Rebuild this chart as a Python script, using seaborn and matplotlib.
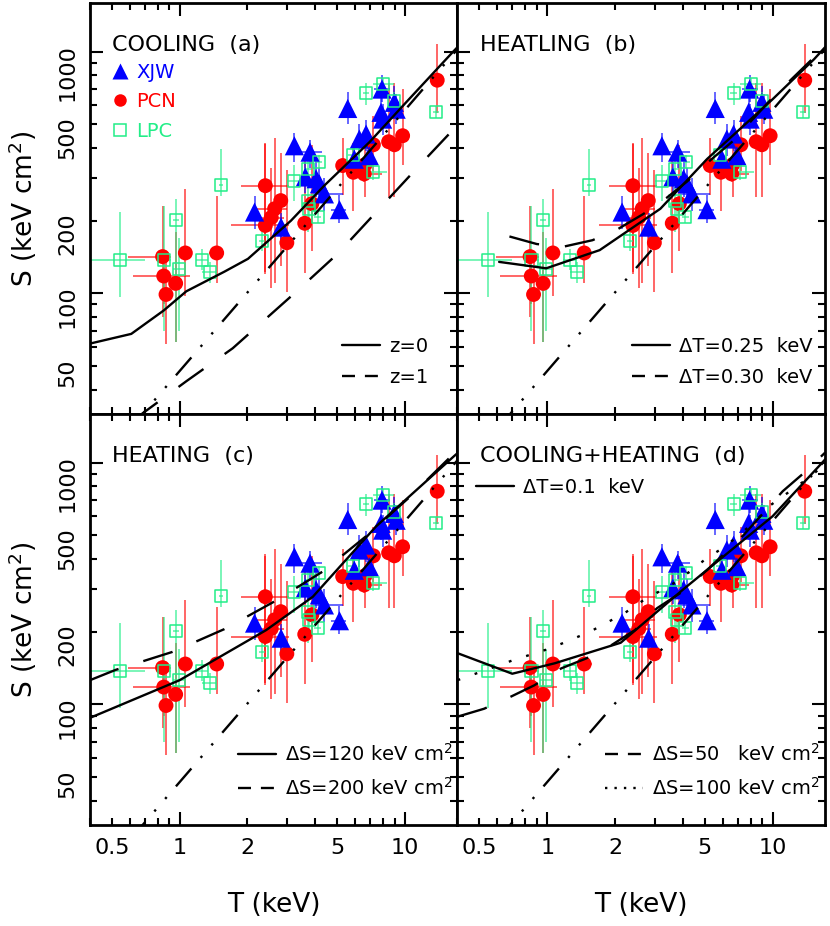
import numpy as np
import pandas as pd
import seaborn as sns
import matplotlib.pyplot as plt
from matplotlib.ticker import FixedLocator, FuncFormatter
from matplotlib.lines import Line2D

# ---- data ----
# XJW (blue triangles)
xjw_T = [2.15, 2.82, 3.23, 3.79, 3.61, 4.03, 4.17, 4.39, 5.12, 5.57, 5.96, 6.27, 6.72, 6.95, 7.91, 7.83, 7.96, 8.97, 9.14]
xjw_S = [217, 188, 408, 384, 303, 298, 284, 258, 222, 582, 359, 435, 456, 371, 700, 561, 526, 617, 578]
xjw_S_lo = [185, 160, 350, 330, 260, 250, 240, 220, 195, 500, 310, 370, 390, 320, 620, 480, 450, 530, 500]
xjw_S_hi = [254, 215, 460, 430, 350, 350, 330, 300, 255, 680, 420, 500, 520, 430, 800, 650, 610, 720, 670]
xjw_T_lo = [2.10, 2.75, 3.15, 3.30, 3.52, 3.93, 4.07, 3.90, 4.70, 5.45, 5.80, 6.10, 6.55, 6.80, 7.30, 7.65, 7.75, 8.70, 8.90]
xjw_T_hi = [2.20, 2.90, 3.30, 4.30, 3.70, 4.13, 4.27, 5.30, 5.50, 5.70, 6.10, 6.45, 6.90, 7.10, 8.60, 8.00, 8.15, 9.25, 9.40]

# PCN (red circles)
pcn_T = [0.84, 0.85, 0.87, 0.96, 1.06, 1.46, 2.40, 2.40, 2.55, 2.64, 2.81, 2.99, 3.59, 3.86, 5.29, 5.90, 6.65, 6.59, 7.24, 8.46, 8.97, 9.76, 13.9]
pcn_S = [142, 118, 99, 110, 147, 147, 279, 191, 206, 224, 242, 162, 195, 235, 338, 317, 341, 312, 412, 424, 412, 449, 762]
pcn_S_lo = [80, 90, 62, 63, 98, 110, 123, 120, 105, 110, 130, 101, 121, 150, 255, 220, 250, 290, 320, 250, 250, 340, 560]
pcn_S_hi = [230, 150, 135, 180, 270, 253, 413, 420, 330, 440, 380, 325, 360, 410, 440, 420, 480, 360, 540, 740, 740, 700, 1080]
pcn_T_lo = [0.59, 0.62, 0.82, 0.93, 1.06, 1.35, 1.88, 1.69, 2.30, 2.20, 2.81, 2.99, 3.59, 3.86, 5.29, 5.90, 6.65, 6.20, 7.24, 8.46, 8.97, 9.76, 13.9]
pcn_T_hi = [0.92, 1.11, 0.93, 0.99, 1.06, 1.58, 3.07, 3.07, 2.90, 3.00, 2.81, 2.99, 3.59, 3.86, 5.29, 5.90, 6.65, 7.90, 7.24, 8.46, 8.97, 9.76, 13.9]

# LPC (green open squares)
lpc_T = [0.546, 0.852, 0.96, 0.993, 1.26, 1.36, 1.53, 2.32, 3.23, 3.70, 4.14, 3.70, 3.76, 4.10, 5.86, 7.19, 6.72, 8.01, 8.97, 13.7]
lpc_S = [138, 137, 202, 126, 138, 123, 282, 165, 293, 327, 351, 242, 224, 207, 374, 319, 672, 733, 626, 561]
lpc_S_lo = [97, 70, 63, 70, 125, 110, 253, 150, 240, 280, 330, 180, 200, 195, 340, 295, 600, 690, 580, 530]
lpc_S_hi = [218, 230, 246, 170, 152, 135, 396, 180, 340, 360, 375, 280, 250, 220, 410, 345, 740, 780, 680, 595]
lpc_T_lo = [0.40, 0.80, 0.93, 0.93, 1.18, 1.26, 1.50, 2.25, 3.00, 3.55, 4.00, 3.60, 3.65, 3.95, 5.60, 6.60, 6.50, 7.20, 8.70, 13.3]
lpc_T_hi = [0.70, 0.92, 0.99, 1.05, 1.34, 1.45, 1.56, 2.40, 3.45, 3.85, 4.30, 3.80, 3.87, 4.25, 6.10, 8.30, 6.95, 8.90, 9.25, 14.1]

# self-similar line (dash-dot, all panels)
ss_T = [0.60, 17.5]
ss_S = [27.5, 1050]

# panel (a): cooling
a_z0_T = [0.40, 0.61, 0.85, 1.07, 1.58, 2.01, 3.12, 4.38, 6.95, 10.0, 15.98, 17.2]
a_z0_S = [62, 68, 85, 102, 123, 139, 200, 279, 422, 610, 977, 1050]
a_z1_T = [0.62, 0.688, 1.07, 1.72, 3.29, 5.03, 11.2, 17.2]
a_z1_S = [29.8, 32, 43.3, 59.3, 101.6, 146, 327, 500]

# panel (b): heatling
b_025_T = [0.612, 0.99, 1.71, 3.18, 5.13, 10.0, 15.3, 17.3]
b_025_S = [135, 127, 151, 224, 360, 635, 931, 1055]
b_030_T = [0.68, 0.90, 1.18, 1.59, 2.07, 2.67, 3.38, 4.17, 5.27, 6.62, 10.0, 17.3]
b_030_S = [172, 160, 156, 166, 185, 213, 248, 290, 354, 424, 645, 1060]

# panel (c): heating
c_120_T = [0.40, 1.0, 1.61, 2.42, 3.9, 7.44, 16.5, 17.1]
c_120_S = [88, 126, 163, 203, 279, 545, 1064, 1095]
c_200_T = [0.40, 0.52, 0.93, 1.58, 2.64, 4.32, 6.71, 10.4, 15.8, 17.1]
c_200_S = [126, 139, 165, 205, 267, 355, 496, 716, 1050, 1130]

# panel (d): cooling + heating
d_01_T = [0.40, 0.70, 1.08, 2.12, 4.03, 10.0, 17.1]
d_01_S = [163, 134, 148, 180, 300, 600, 1030]
d_50_T = [0.40, 0.525, 0.68, 0.877, 1.155, 1.49, 1.93, 2.45, 3.07, 3.9, 5.13, 7.47, 11.1, 13.8, 17.1]
d_50_S = [89, 96, 107, 120, 141, 155, 176, 203, 250, 289, 360, 504, 762, 908, 1100]
d_100_T = [0.40, 0.70, 1.04, 1.55, 2.21, 2.63, 3.77, 5.13, 6.19, 8.57, 9.66, 14.8, 17.1]
d_100_S = [126, 152, 171, 200, 239, 267, 323, 404, 451, 582, 661, 879, 990]

titles = ['COOLING  (a)', 'HEATLING  (b)', 'HEATING  (c)', 'COOLING+HEATING  (d)']
x_labels = {0.5: '0.5', 2: '2', 5: '5'}
y_labels = {50: '50', 200: '200', 500: '500'}

BLUE = '#0000ff'
RED = '#ff0000'
GREEN = '#22ee88'

SOLID = '-'
DASH = (0, (13, 11))
DASHDOT = (0, (10, 6, 1, 6, 1, 6))
DOT = (0, (1.2, 6.5))

sns.set_style('ticks')
plt.rcParams['font.family'] = ['DejaVu Sans']
plt.rcParams['axes.linewidth'] = 2.0
plt.rcParams['text.color'] = 'black'
plt.rcParams['axes.labelcolor'] = 'black'
plt.rcParams['xtick.color'] = 'black'
plt.rcParams['ytick.color'] = 'black'
plt.rcParams['axes.edgecolor'] = 'black'

fig, axes = plt.subplots(2, 2, figsize=(8.3, 9.26), dpi=100, sharex=True, sharey=True)
fig.subplots_adjust(left=0.1084, right=0.994, top=0.9968, bottom=0.109, wspace=0, hspace=0)

panel_lines = [
    [(a_z0_T, a_z0_S, SOLID), (a_z1_T, a_z1_S, DASH)],
    [(b_025_T, b_025_S, SOLID), (b_030_T, b_030_S, DASH)],
    [(c_120_T, c_120_S, SOLID), (c_200_T, c_200_S, DASH)],
    [(d_01_T, d_01_S, SOLID), (d_50_T, d_50_S, DASH), (d_100_T, d_100_S, DOT)],
]


def errbars(ax, T, S, Tlo, Thi, Slo, Shi, color):
    T = np.array(T); S = np.array(S)
    ax.errorbar(T, S, xerr=[T - np.array(Tlo), np.array(Thi) - T],
                yerr=[S - np.array(Slo), np.array(Shi) - S],
                fmt='none', ecolor=color, elinewidth=1.3, alpha=0.65, capsize=0, zorder=2)


for i, ax in enumerate(axes.flat):
    ax.set_xscale('log')
    ax.set_yscale('log')

    errbars(ax, pcn_T, pcn_S, pcn_T_lo, pcn_T_hi, pcn_S_lo, pcn_S_hi, RED)
    errbars(ax, xjw_T, xjw_S, xjw_T_lo, xjw_T_hi, xjw_S_lo, xjw_S_hi, BLUE)
    errbars(ax, lpc_T, lpc_S, lpc_T_lo, lpc_T_hi, lpc_S_lo, lpc_S_hi, GREEN)

    sns.scatterplot(x=pcn_T, y=pcn_S, ax=ax, marker='o', s=115, color=RED,
                    edgecolor='none', linewidth=0, zorder=3)
    sns.scatterplot(x=xjw_T, y=xjw_S, ax=ax, marker='^', s=190, color=BLUE,
                    edgecolor='none', linewidth=0, zorder=4)
    sns.scatterplot(x=lpc_T, y=lpc_S, ax=ax, marker='s', s=75, facecolor='none',
                    edgecolor=GREEN, linewidth=1.1, zorder=5)

    sns.lineplot(x=ss_T, y=ss_S, ax=ax, color='k', lw=1.7, linestyle=DASHDOT,
                 sort=False, estimator=None, zorder=6)
    for T, S, ls in panel_lines[i]:
        sns.lineplot(x=T, y=S, ax=ax, color='k', lw=1.7, linestyle=ls,
                     sort=False, estimator=None, zorder=6)

    ax.set_xlim(0.40, 17.1)
    ax.set_ylim(31.7, 1590)
    ax.xaxis.set_major_locator(FixedLocator([1, 10]))
    ax.xaxis.set_minor_locator(FixedLocator([0.4, 0.5, 0.6, 0.7, 0.8, 0.9, 2, 3, 4, 5, 6, 7, 8, 9]))
    ax.yaxis.set_major_locator(FixedLocator([100, 1000]))
    ax.yaxis.set_minor_locator(FixedLocator([40, 50, 60, 70, 80, 90, 200, 300, 400, 500, 600, 700, 800, 900]))
    ax.xaxis.set_major_formatter(FuncFormatter(lambda v, p: f'{v:g}'))
    ax.yaxis.set_major_formatter(FuncFormatter(lambda v, p: f'{v:g}'))
    ax.xaxis.set_minor_formatter(FuncFormatter(lambda v, p: x_labels.get(round(v, 3), '')))
    ax.yaxis.set_minor_formatter(FuncFormatter(lambda v, p: y_labels.get(round(v), '')))
    ax.tick_params(which='both', direction='in', top=True, right=True, width=1.5,
                   labelsize=16, color='k', labelcolor='k')
    ax.tick_params(which='major', length=9.5, pad=9)
    ax.tick_params(which='minor', length=5, pad=9)
    ax.tick_params(axis='y', which='both', labelrotation=90)
    for sp in ax.spines.values():
        sp.set_linewidth(2.0)
        sp.set_color('k')

    ax.text(0.06 if i % 2 == 0 else 0.062, 0.898, titles[i], transform=ax.transAxes,
            fontsize=16, va='center', ha='left', color='k')

# legends
def line_handle(ls):
    return Line2D([], [], color='k', lw=1.7, linestyle=ls)

LEG_DASH = (0, (5.5, 4.2))
LEG_DOT = (0, (1.0, 3.0))
leg_kw = dict(frameon=False, fontsize=14, handlelength=1.95, handletextpad=0.45,
              labelspacing=0.62, borderpad=0, borderaxespad=0, labelcolor='k')

ax = axes[0, 0]
mk = [Line2D([], [], ls='none', marker='^', ms=12, color=BLUE, mec='none'),
      Line2D([], [], ls='none', marker='o', ms=9, color=RED, mec='none'),
      Line2D([], [], ls='none', marker='s', ms=8, mfc='none', mec=GREEN, mew=1.1)]
leg1 = ax.legend(mk, ['XJW', 'PCN', 'LPC'], loc='upper left', bbox_to_anchor=(0.055, 0.855),
                 labelcolor=[BLUE, RED, GREEN], frameon=False, fontsize=14, handlelength=1.0,
                 handletextpad=0.35, labelspacing=0.55, borderpad=0, borderaxespad=0)
ax.add_artist(leg1)
ax.legend([line_handle(SOLID), line_handle(LEG_DASH)], ['z=0', 'z=1'],
          loc='lower right', bbox_to_anchor=(0.92, 0.065), **leg_kw)

axes[0, 1].legend([line_handle(SOLID), line_handle(LEG_DASH)],
                  ['ΔT=0.25  keV', 'ΔT=0.30  keV'],
                  loc='lower right', bbox_to_anchor=(0.965, 0.065), **leg_kw)

axes[1, 0].legend([line_handle(SOLID), line_handle(LEG_DASH)],
                  ['ΔS=120 keV cm$^2$', 'ΔS=200 keV cm$^2$'],
                  loc='lower right', bbox_to_anchor=(0.985, 0.065), **leg_kw)

ax = axes[1, 1]
leg2 = ax.legend([line_handle(SOLID)], ['ΔT=0.1  keV'], loc='upper left',
                 bbox_to_anchor=(0.05, 0.845), **leg_kw)
ax.add_artist(leg2)
ax.legend([line_handle(LEG_DASH), line_handle(LEG_DOT)],
          ['ΔS=50   keV cm$^2$', 'ΔS=100 keV cm$^2$'],
          loc='lower right', bbox_to_anchor=(0.985, 0.065), **leg_kw)

# axis labels
for yc in (209, 620):
    fig.text(23 / 830, 1 - yc / 926, 'S (keV cm$^2$)', rotation=90, fontsize=19,
             ha='center', va='center', color='k')
for xc in (273.5, 641):
    fig.text(xc / 830, 1 - 905 / 926, 'T (keV)', fontsize=19, ha='center', va='center',
             color='k')

fig.savefig('out.png', dpi=100)
